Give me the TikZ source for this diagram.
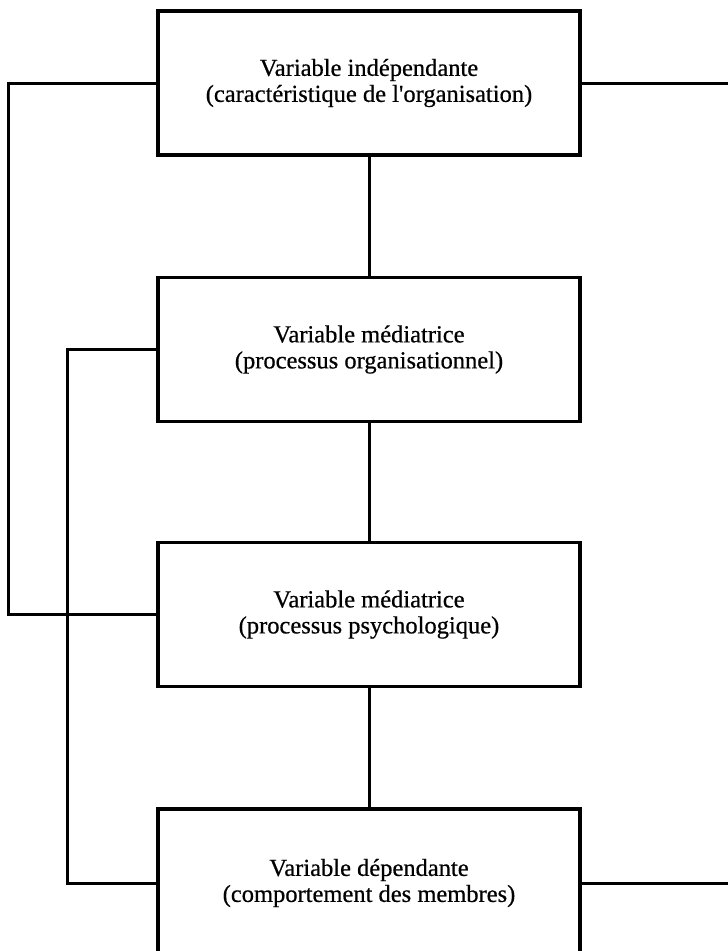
\documentclass[tikz,border=0pt]{standalone}
\usepackage{fontspec}
\setmainfont{Liberation Serif}[FakeBold=0.6]
\begin{document}
\begin{tikzpicture}[x=1pt,y=-1pt,
  varbox/.style={draw, line width=3.6pt, minimum width=422pt, minimum height=144pt,
    align=center, inner sep=0pt, font=\fontsize{24.5}{26}\selectfont},
  link/.style={line width=3pt, line join=miter}]
\useasboundingbox (0,0) rectangle (728,951);

% the four variables, top to bottom
\node[varbox] (ind) at (369,83) {Variable indépendante\\(caractéristique de l\textquotesingle organisation)};
\node[varbox] (org) at (369,349.5) {Variable médiatrice\\(processus organisationnel)};
\node[varbox] (psy) at (369,614.5) {Variable médiatrice\\(processus psychologique)};
\node[varbox, minimum height=148pt] (dep) at (369,883) {Variable dépendante\\(comportement des membres)};

% side lanes
\coordinate (laneA) at (8,0);
\coordinate (laneB) at (67,0);
\coordinate (laneR) at (740,0);

% main chain
\draw[link] (ind.south) -- (org.north);
\draw[link] (org.south) -- (psy.north);
\draw[link] (psy.south) -- (dep.north);

% bypass links on the left
\draw[link] (ind.west) -- (ind.west -| laneA) -- (psy.west -| laneA) -- (psy.west);
\draw[link] (org.west) -- (org.west -| laneB) -- (dep.west -| laneB) -- (dep.west);

% links leaving on the right
\draw[link] (ind.east) -- (ind.east -| laneR);
\draw[link] (dep.east) -- (dep.east -| laneR);
\end{tikzpicture}
\end{document}
